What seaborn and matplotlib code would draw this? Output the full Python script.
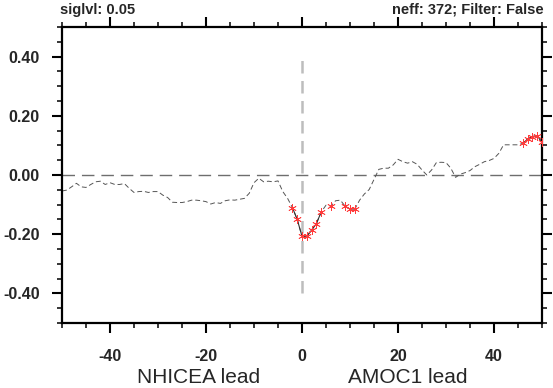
import numpy as np
import pandas as pd
import matplotlib
matplotlib.use("Agg")
import matplotlib.pyplot as plt
import seaborn as sns

sns.set_theme(style="ticks")
plt.rcParams["font.family"] = ["Liberation Sans", "DejaVu Sans"]
plt.rcParams["axes.unicode_minus"] = False

# lag correlation, lag in years (negative: NHICEA leads)
lags = list(range(-50, 51))
corr = [
    -0.054, -0.051, -0.040, -0.028, -0.040, -0.042, -0.032, -0.023, -0.021, -0.032,
    -0.026, -0.032, -0.032, -0.029, -0.045, -0.059, -0.056, -0.055, -0.059, -0.056,
    -0.056, -0.068, -0.076, -0.092, -0.093, -0.093, -0.090, -0.085, -0.085, -0.087,
    -0.090, -0.098, -0.093, -0.096, -0.087, -0.084, -0.085, -0.082, -0.079, -0.062,
    -0.026, -0.011, -0.023, -0.021, -0.023, -0.020, -0.056, -0.079, -0.110, -0.150,
    -0.207,
    -0.207, -0.186, -0.164, -0.125, -0.102, -0.105, -0.087, -0.085, -0.106, -0.115,
    -0.115, -0.085, -0.064, -0.049, -0.015, 0.019, 0.023, 0.023, 0.034, 0.053,
    0.045, 0.040, 0.045, 0.036, 0.017, 0.000, 0.017, 0.042, 0.043, 0.042,
    0.023, -0.008, 0.003, 0.008, 0.015, 0.028, 0.036, 0.045, 0.049, 0.056,
    0.073, 0.102, 0.102, 0.102, 0.102, 0.107, 0.121, 0.130, 0.133, 0.110,
]
sig_lags = [-2, -1, 0, 1, 2, 3, 4, 6, 9, 10, 11, 46, 47, 48, 49, 50]

siglvl = "0.05"
neff = 372
x_labels = ["NHICEA lead", "AMOC1 lead"]

df = pd.DataFrame({"lag": lags, "corr": corr})
sig = df[df["lag"].isin(sig_lags)].copy()
sig["seg"] = (sig["lag"].diff() != 1).cumsum()

fig = plt.figure(figsize=(5.53, 3.88), dpi=100)
ax = fig.add_axes([62 / 553, 1 - 323 / 388, 480 / 553, 296 / 388])

ax.axhline(0, color="#6e6e6e", lw=1.0, dashes=(9, 5), zorder=1)
ax.vlines(0, -0.4, 0.4, color="#bdbdbd", lw=1.8, linestyles=(0, (5, 3)), zorder=1)

sns.lineplot(data=df, x="lag", y="corr", color="#555555", lw=0.7,
             linestyle="--", ax=ax, zorder=2)
ax.lines[-1].set_dashes([5, 3])

sns.lineplot(data=sig, x="lag", y="corr", units="seg", estimator=None,
             color="#333333", lw=0.8, marker=(6, 2, 0), markersize=6,
             markeredgecolor="#ff3b3b", markeredgewidth=0.55, ax=ax, zorder=3)

ax.set_xlim(-50, 50)
ax.set_ylim(-0.5, 0.5)
ax.set_xticks([-40, -20, 0, 20, 40])
ax.set_xticks(np.arange(-50, 51, 5), minor=True)
ax.set_yticks([-0.4, -0.2, 0.0, 0.2, 0.4])
ax.set_yticks(np.arange(-0.5, 0.51, 0.05), minor=True)
ax.set_yticklabels([f"{v:.2f}" for v in [-0.4, -0.2, 0.0, 0.2, 0.4]])
ax.set_xlabel("")
ax.set_ylabel("")

for s in ax.spines.values():
    s.set_visible(True)
    s.set_linewidth(1.6)
    s.set_color("black")

ax.tick_params(which="both", direction="out", top=True, right=True, color="black")
ax.tick_params(which="major", length=7.5, width=1.5, labelsize=11.5, pad=8.5)
ax.tick_params(which="minor", length=3.8, width=1.1)
ax.tick_params(axis="x", which="major", pad=11.5)
for lab in ax.get_xticklabels() + ax.get_yticklabels():
    lab.set_fontweight("bold")

fig.text(60 / 553, 1 - 14 / 388, f"siglvl: {siglvl}", fontsize=10.5,
         fontweight="bold", ha="left", va="baseline")
fig.text(544 / 553, 1 - 14 / 388, f"neff: {neff}; Filter: False", fontsize=10.5,
         fontweight="bold", ha="right", va="baseline")

fig.text(199 / 553, 1 - 383 / 388, x_labels[0], fontsize=15, ha="center", va="baseline")
fig.text(408 / 553, 1 - 383 / 388, x_labels[1], fontsize=15, ha="center", va="baseline")

fig.savefig("out.png", dpi=100)
